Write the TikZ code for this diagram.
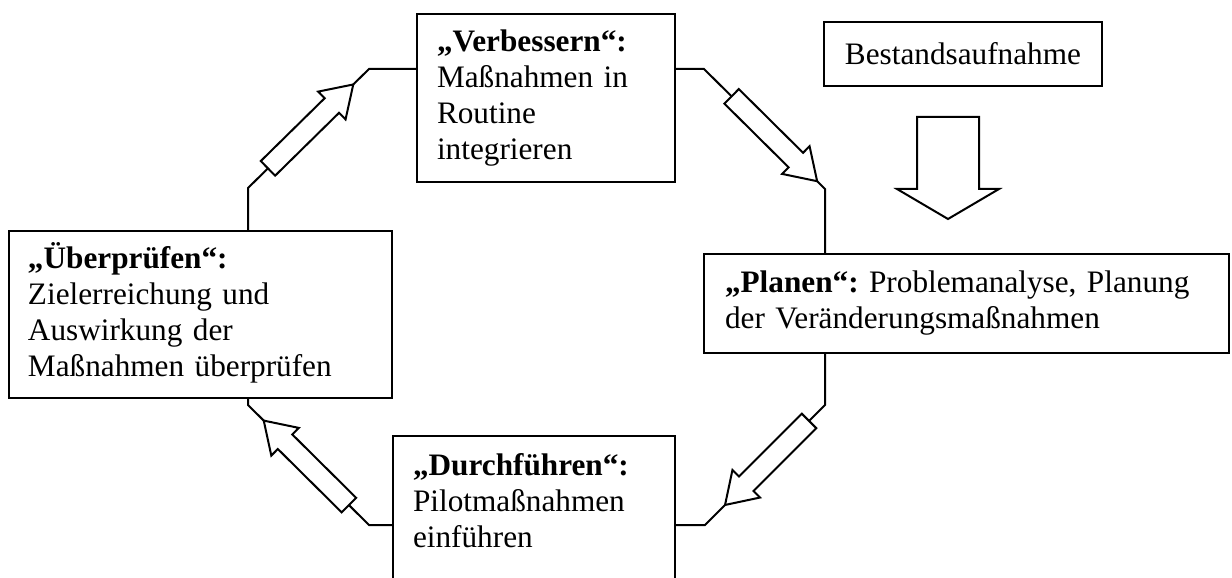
\documentclass[tikz,border=0pt]{standalone}
\usepackage{fontspec}
\setmainfont{Liberation Serif}
\usetikzlibrary{calc}
\frenchspacing
\newcommand\blkarrow[5]{% #1 tail, #2 tip, #3 shaft half width, #4 head half width, #5 head length
  \path ($(#2)!#5!(#1)$) coordinate (hb);
  \draw[arrowbox] ($(#1)!#3!90:(#2)$) -- ($(hb)!#3!-90:(#1)$) -- ($(hb)!#4!-90:(#1)$) -- (#2)
     -- ($(hb)!#4!90:(#1)$) -- ($(hb)!#3!90:(#1)$) -- ($(#1)!#3!-90:(#2)$) -- cycle;
}
\begin{document}
\begin{tikzpicture}[x=0.4pt,y=-0.4pt,line width=0.8pt,
  box/.style={draw, rectangle, align=left, inner ysep=0pt,
    font=\fontsize{12.5pt}{14.4pt}\selectfont\frenchspacing},
  arrowbox/.style={draw, fill=white, line join=miter},
  ring/.style={draw}]
\useasboundingbox (0,0) rectangle (1232,578);
\clip (0,0) rectangle (1232,578);

% boxes
\node[box, minimum width=153.2pt, minimum height=66.8pt, text width=138pt, inner xsep=7.6pt]
  (ueb) at (200.5,314.5)
  {\strut\textbf{„Überprüfen“:}\\Zielerreichung und\\Auswirkung der\\Maßnahmen überprüfen\strut};
\node[box, minimum width=103.2pt, minimum height=67.2pt, text width=87.2pt, inner xsep=8pt]
  (verb) at (546,98)
  {\strut\textbf{„Verbessern“:}\\Maßnahmen in\\Routine\\integrieren\strut};
\node[box, minimum width=111.2pt, minimum height=25.6pt, inner xsep=0pt]
  (best) at (963,54) {Bestandsaufnahme};
\node[box, minimum width=210pt, minimum height=39.6pt, text width=193.2pt, inner xsep=8.4pt]
  (plan) at (966.5,303.5)
  {\strut\textbf{„Planen“:} Problemanalyse, Planung\\der Veränderungsmaßnahmen\strut};
\node[box, minimum width=112.8pt, minimum height=68.8pt, text width=96.8pt, inner xsep=8pt]
  (durch) at (534,522)
  {\strut\textbf{„Durchführen“:}\\Pilotmaßnahmen\\einführen\\\strut};

% corners of the cycle
\coordinate (c1) at (248,188);
\coordinate (c2) at (369,69);
\coordinate (c3) at (704,69);
\coordinate (c4) at (825,189);
\coordinate (c5) at (825,405);
\coordinate (c6) at (705,525);
\coordinate (c7) at (369,525);
\coordinate (c8) at (248,405);

\path[ring] (c1 |- ueb.north) -- (c1) -- (c2) -- (c2 -| verb.west);
\path[ring] (c3 -| verb.east) -- (c3) -- (c4) -- (c4 |- plan.north);
\path[ring] (c5 |- plan.south) -- (c5) -- (c6) -- (c6 -| durch.east);
\path[ring] (c7 -| durch.west) -- (c7) -- (c8) -- (c8 |- ueb.south);

% block arrows along the cycle
\coordinate (a1t) at ($(c1)!0.165!(c2)$);
\coordinate (a1h) at ($(c1)!0.87!(c2)$);
\coordinate (a2t) at ($(c3)!0.228!(c4)$);
\coordinate (a2h) at ($(c3)!0.935!(c4)$);
\coordinate (a3t) at ($(c5)!0.133!(c6)$);
\coordinate (a3h) at ($(c5)!0.833!(c6)$);
\coordinate (a4t) at ($(c7)!0.166!(c8)$);
\coordinate (a4h) at ($(c7)!0.87!(c8)$);
\blkarrow{a1t}{a1h}{4.1pt}{7.8pt}{12pt}
\blkarrow{a2t}{a2h}{4.1pt}{7.8pt}{12pt}
\blkarrow{a3t}{a3h}{4.1pt}{7.8pt}{12pt}
\blkarrow{a4t}{a4h}{4.1pt}{7.8pt}{12pt}

% block arrow below Bestandsaufnahme
\coordinate (dt) at (948,117);
\coordinate (dh) at (948,219);
\blkarrow{dt}{dh}{12.4pt}{20.4pt}{12pt}
\end{tikzpicture}
\end{document}
